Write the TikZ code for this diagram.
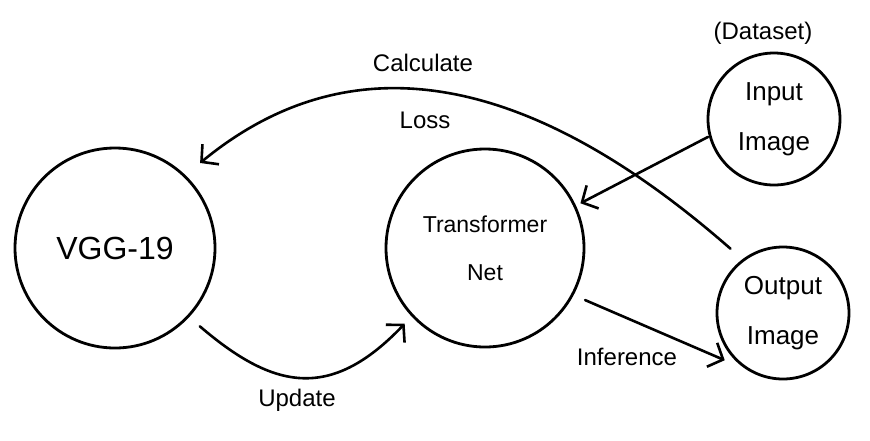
\documentclass[tikz,border=0pt]{standalone}
\usepackage{fontspec}
\setmainfont{Liberation Sans}
\usetikzlibrary{arrows.meta}
\begin{document}
\begin{tikzpicture}[x=1pt,y=-1pt,
  bubble/.style={circle, draw, line width=2.8pt, inner sep=0pt, align=center},
  lbl/.style={font=\fontsize{24}{28}\selectfont, inner sep=0pt},
  conn/.style={line width=2.6pt, line cap=round,
    -{Straight Barb[length=12pt,width=26pt]}}]
\useasboundingbox (0,0) rectangle (870,440);
% nodes
\node[bubble, minimum size=200pt, font=\fontsize{32}{38}\selectfont] (vgg) at (115,248) {VGG-19};
\node[bubble, minimum size=198pt, font=\fontsize{23}{48}\selectfont] (tn) at (485,248) {Transformer\\Net};
\node[bubble, minimum size=132pt, font=\fontsize{26}{50}\selectfont] (in) at (774,119) {Input\\Image};
\node[bubble, minimum size=132pt, font=\fontsize{26}{50}\selectfont] (out) at (783,313) {Output\\Image};
% labels
\node[lbl] (ds) at (763,33) {(Dataset)};
\node[lbl] (calc) at (423,63) {Calculate};
\node[lbl] (loss) at (425,120) {Loss};
\node[lbl] (upd) at (297,400) {Update};
\node[lbl] (inf) at (627,357) {Inference};
% connectors
\draw[conn, shorten <=16pt, shorten >=19pt] (out.127.6) .. controls (523,67) and (347,42) .. (vgg.46.4);
\draw[conn, shorten <=14pt, shorten >=10pt] (vgg.-43.9) .. controls (273,389) and (330,402) .. (tn.223.5);
\draw[conn, shorten <=1pt, shorten >=5pt] (in.195) -- (tn.25.3);
\draw[conn, shorten <=12.5pt, shorten >=23.5pt] (tn.-28) -- (out.237.1);
\end{tikzpicture}
\end{document}
